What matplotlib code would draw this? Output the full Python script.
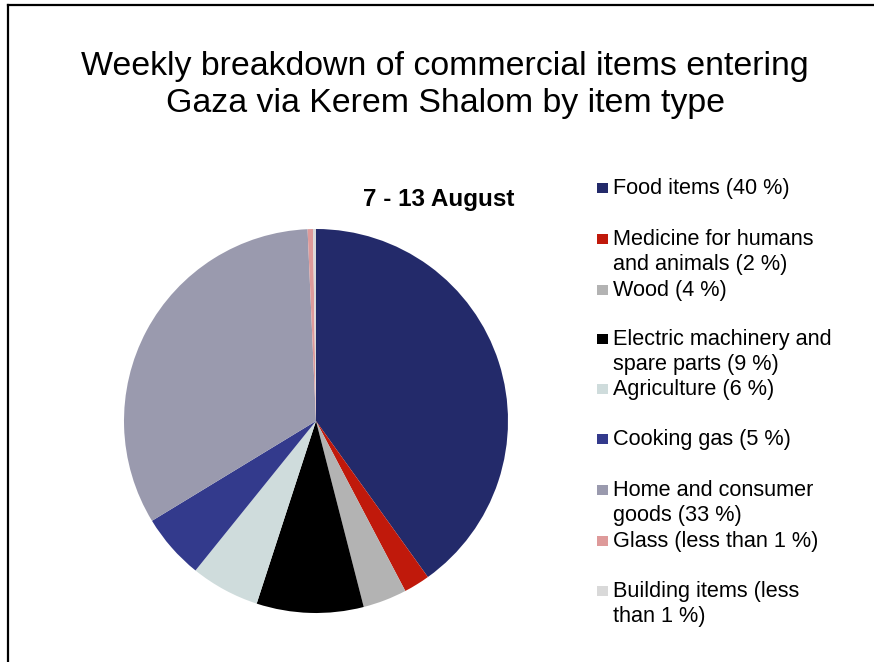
import matplotlib
matplotlib.use("Agg")
import matplotlib.pyplot as plt
from matplotlib.patches import Rectangle
from matplotlib.lines import Line2D

plt.rcParams["font.family"] = ["Liberation Sans", "DejaVu Sans"]

# ---------------------------------------------------------------------------
# Data (shares, clockwise from 12 o'clock)
# ---------------------------------------------------------------------------

categories = [
    "Food items (40 %)",
    "Medicine for humans\nand animals (2 %)",
    "Wood (4 %)",
    "Electric machinery and\nspare parts (9 %)",
    "Agriculture (6 %)",
    "Cooking gas (5 %)",
    "Home and consumer\ngoods (33 %)",
    "Glass (less than 1 %)",
    "Building items (less\nthan 1 %)",
]
shares = [40.1, 2.2, 3.7, 9.0, 5.8, 5.5, 33.0, 0.45, 0.25]
colors = ["#232A6A", "#C0190B", "#B3B3B3", "#000000", "#CFDCDC",
          "#333A8C", "#9A9AAE", "#DE9A9A", "#D9D9D9"]

W, H = 874, 662
fig = plt.figure(figsize=(W / 100, H / 100), dpi=100)
fig.patch.set_facecolor("white")


def fx(px):
    return px / W


def fy(py):
    return 1 - py / H


# slide frame (left + top edges)
fig.add_artist(Line2D([fx(8), fx(8)], [0, fy(5)], color="black", lw=1.6))
fig.add_artist(Line2D([fx(8), 1], [fy(5), fy(5)], color="black", lw=1.6))

# title
fig.text(fx(445), fy(85), "Weekly breakdown of commercial items entering\n"
         "Gaza via Kerem Shalom by item type",
         ha="center", va="center", fontsize=24.4, linespacing=1.25)

fig.text(fx(439), fy(200), "7 - 13 August", ha="center", va="center",
         fontsize=17.5, fontweight="bold")

# pie
cx, cy, r = 316, 421, 192
ax = fig.add_axes([fx(cx - r), fy(cy + r), 2 * r / W, 2 * r / H])
ax.pie(shares, colors=colors, startangle=90, counterclock=False,
       radius=1, wedgeprops=dict(linewidth=0))
ax.set_xlim(-1, 1)
ax.set_ylim(-1, 1)
ax.set_aspect("auto")
ax.axis("off")

# legend
legend_y = [187, 238, 289, 338, 388, 438, 489, 540, 590]
for label, col, y in zip(categories, colors, legend_y):
    fig.add_artist(Rectangle((fx(597), fy(y + 6)), 11 / W, 10 / H,
                             facecolor=col, edgecolor="none",
                             transform=fig.transFigure))
    fig.text(fx(613), fy(y - 9), label, ha="left", va="top",
             fontsize=15.6, linespacing=1.27)

fig.savefig("out.png", dpi=100, facecolor="white")
